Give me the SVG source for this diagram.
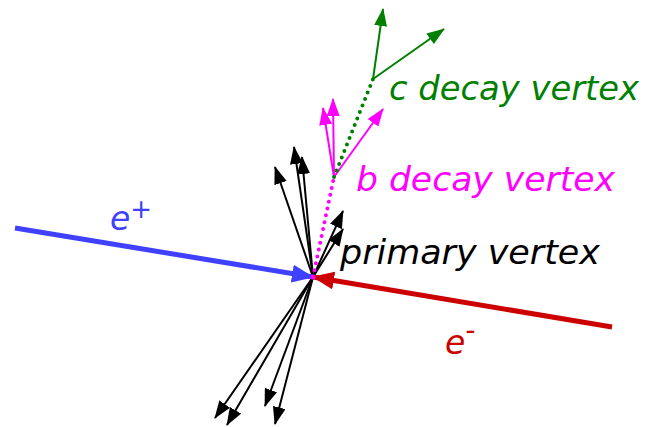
<svg xmlns="http://www.w3.org/2000/svg" width="648" height="427" viewBox="0 0 648 427">
<defs>
<marker id="ak" viewBox="0 0 18 13" refX="17" refY="6.5" markerWidth="18" markerHeight="13" markerUnits="userSpaceOnUse" orient="auto"><path d="M0,0 L18,6.5 L0,13 Z" fill="#000"/></marker>
<marker id="am" viewBox="0 0 18 13" refX="17" refY="6.5" markerWidth="18" markerHeight="13" markerUnits="userSpaceOnUse" orient="auto"><path d="M0,0 L18,6.5 L0,13 Z" fill="#ff00ff"/></marker>
<marker id="ag" viewBox="0 0 18 13" refX="17" refY="6.5" markerWidth="18" markerHeight="13" markerUnits="userSpaceOnUse" orient="auto"><path d="M0,0 L18,6.5 L0,13 Z" fill="#008000"/></marker>
<marker id="ab" viewBox="0 0 22 18" refX="21" refY="9" markerWidth="22" markerHeight="18" markerUnits="userSpaceOnUse" orient="auto"><path d="M0,0 L22,9 L0,18 Z" fill="#4040ff"/></marker>
<marker id="ar" viewBox="0 0 22 18" refX="21" refY="9" markerWidth="22" markerHeight="18" markerUnits="userSpaceOnUse" orient="auto"><path d="M0,0 L22,9 L0,18 Z" fill="#cc0000"/></marker>
</defs>
<style>
.t{font-family:"DejaVu Sans","Liberation Sans",sans-serif;font-style:italic;font-size:33px}
.k{stroke:#000;stroke-width:2;fill:none;marker-end:url(#ak)}
.m{stroke:#ff00ff;stroke-width:2;fill:none;marker-end:url(#am)}
.g{stroke:#008000;stroke-width:2;fill:none;marker-end:url(#ag)}
.dot{stroke-width:4;stroke-linecap:round;stroke-dasharray:0 7;fill:none}
</style>
<g id="connectors">
<line class="k" x1="313" y1="277" x2="275" y2="167"/>
<line class="k" x1="313" y1="277" x2="294" y2="147"/>
<line class="k" x1="313" y1="277" x2="302" y2="157"/>
<line class="k" x1="313" y1="277" x2="343" y2="211"/>
<line class="k" x1="313" y1="277" x2="343" y2="229"/>
<line class="k" x1="313" y1="277" x2="215" y2="418"/>
<line class="k" x1="313" y1="277" x2="227" y2="425"/>
<line class="k" x1="313" y1="277" x2="265" y2="406"/>
<line class="k" x1="313" y1="277" x2="275" y2="424"/>
<line class="dot" stroke="#ff00ff" x1="313" y1="277" x2="334" y2="177"/>
<line class="m" x1="334" y1="177" x2="323" y2="108"/>
<line class="m" x1="334" y1="177" x2="333" y2="99"/>
<line class="m" x1="334" y1="177" x2="383" y2="109"/>
<line class="dot" stroke="#008000" x1="334" y1="177" x2="373" y2="79"/>
<line class="g" x1="373" y1="79" x2="383" y2="9"/>
<line class="g" x1="373" y1="79" x2="444" y2="29"/>
<line stroke="#4040ff" stroke-width="5" x1="15" y1="228" x2="313" y2="277" marker-end="url(#ab)"/>
<line stroke="#cc0000" stroke-width="5" x1="612" y1="327" x2="313" y2="277" marker-end="url(#ar)"/>
<circle cx="313" cy="277" r="2.5" fill="#ff00ff"/>
</g>
<g id="c-vertex"><text class="t" x="389" y="100" fill="#008000" textLength="250" lengthAdjust="spacingAndGlyphs">c decay vertex</text></g>
<g id="b-vertex"><text class="t" x="356" y="191" fill="#ff00ff" textLength="259" lengthAdjust="spacingAndGlyphs">b decay vertex</text></g>
<g id="primary-vertex"><text class="t" x="340" y="264" fill="#000" textLength="260" lengthAdjust="spacingAndGlyphs">primary vertex</text></g>
<g id="e-plus"><text class="t" x="110" y="230" fill="#4040ff" font-size="38">e<tspan font-size="26" dy="-12">+</tspan></text></g>
<g id="e-minus"><text class="t" x="445" y="354" fill="#cc0000" font-size="38">e<tspan font-size="28" dy="-14">-</tspan></text></g>
</svg>
